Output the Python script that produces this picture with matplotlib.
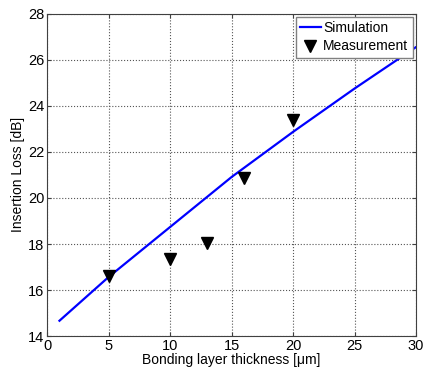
import matplotlib
matplotlib.use("Agg")
import matplotlib.pyplot as plt

plt.rcParams['font.family'] = ['Liberation Sans', 'DejaVu Sans']

# simulation curve
sim_x = [1, 5, 10, 15, 20, 25, 30]
sim_y = [14.67, 16.57, 18.74, 20.91, 22.87, 24.75, 26.55]

# measured points
meas_x = [5, 10, 13, 16, 20]
meas_y = [16.63, 17.37, 18.06, 20.87, 23.37]

fig = plt.figure(figsize=(4.25, 3.69), dpi=100)
ax = fig.add_axes([0.111, 0.089, 0.868, 0.874])

ax.plot(sim_x, sim_y, color='#0000ff', lw=1.6, label='Simulation', zorder=3)
ax.plot(meas_x, meas_y, 'v', color='black', ms=8, label='Measurement', zorder=4)

ax.set_xlim(0, 30)
ax.set_ylim(14, 28)
ax.set_xticks(range(0, 31, 5))
ax.set_yticks(range(14, 29, 2))
ax.grid(True, ls=':', color='#555555', lw=0.8)
for s in ax.spines.values():
    s.set_color('#404040')
ax.tick_params(direction='in', labelsize=10.5, length=3, pad=2,
               top=True, right=True, color='#404040')
ax.set_xlabel('Bonding layer thickness [\u03bcm]', fontsize=10, labelpad=0)
ax.set_ylabel('Insertion Loss [dB]', fontsize=10, labelpad=2)

leg = ax.legend(loc='upper right', fontsize=10, fancybox=False, framealpha=1,
                edgecolor='#808080', borderaxespad=0.25, handlelength=1.5,
                handletextpad=0.2, borderpad=0.3, labelspacing=0.3)

fig.savefig('out.png', dpi=100)
